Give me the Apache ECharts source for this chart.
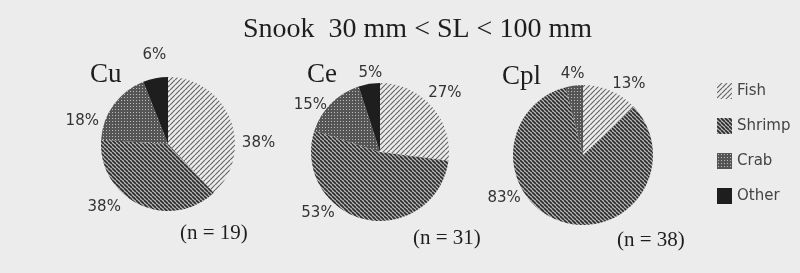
<!DOCTYPE html>
<html style="height: 100%">
<head>
<meta charset="utf-8">
</head>
<body style="height: 100%; margin: 0; background: #ececec">
<div id="container" style="width: 800px; height: 273px"></div>
<script type="text/javascript" src="https://cdn.jsdelivr.net/npm/echarts@6/dist/echarts.min.js"></script>
<script type="text/javascript">
var groups = ['Cu', 'Ce', 'Cpl'];
var sampleSizes = ['(n = 19)', '(n = 31)', '(n = 38)'];
var preyNames = ['Fish', 'Shrimp', 'Crab', 'Other'];
var fish = [38, 27, 13];
var shrimp = [38, 53, 83];
var crab = [18, 15, 4];
var other = [6, 5, 0];

// patterns drawn on small canvases, like the hatching of the original figure
function hatch(bg, fg, size, lw, dir) {
    var c = document.createElement('canvas');
    c.width = c.height = size;
    var g = c.getContext('2d');
    g.fillStyle = bg;
    g.fillRect(0, 0, size, size);
    g.strokeStyle = fg;
    g.lineWidth = lw;
    g.beginPath();
    for (var k = -1; k <= 1; k++) {
        if (dir > 0) {
            g.moveTo(k * size, size);
            g.lineTo(k * size + size, 0);
        } else {
            g.moveTo(k * size, 0);
            g.lineTo(k * size + size, size);
        }
    }
    g.stroke();
    return {image: c, repeat: 'repeat'};
}
function dots(bg, fg, size) {
    var c = document.createElement('canvas');
    c.width = c.height = size;
    var g = c.getContext('2d');
    g.fillStyle = bg;
    g.fillRect(0, 0, size, size);
    g.fillStyle = fg;
    g.fillRect(1, 1, 1, 1);
    return {image: c, repeat: 'repeat'};
}
var fills = [
    hatch('#ececec', '#666666', 5, 1.2, 1),
    hatch('#b8b8b8', '#2a2a2a', 4, 1.6, -1),
    dots('#555555', '#bdbdbd', 3),
    '#1e1e1e'
];

var centers = [[168, 144], [380, 152], [583, 155]];
var radii = [67, 69, 70];
// the original labels are placed by hand, so each one gets a small nudge
var labelNudge = [
    [[1, 26], [-11, -3], [-5, 20], [17, -17]],
    [[-13, -9], [-24, -12], [5, 6], [19, -5]],
    [[-6, -1], [-36, -30], [16, -5]]
];

var series = groups.map(function (g, i) {
    var vals = [fish[i], shrimp[i], crab[i], other[i]];
    var data = [];
    vals.forEach(function (v, j) {
        if (v > 0) {
            data.push({name: preyNames[j], value: v, itemStyle: {color: fills[j]}});
        }
    });
    return {
        name: g,
        type: 'pie',
        center: centers[i],
        radius: [0, radii[i]],
        startAngle: 90,
        animation: false,
        silent: true,
        data: data,
        label: {
            show: true,
            position: 'outside',
            formatter: '{c}%',
            fontFamily: 'DejaVu Sans',
            fontSize: 15,
            color: '#333'
        },
        labelLine: {show: false, length: 6, length2: 0},
        labelLayout: function (p) {
            var n = labelNudge[i][p.dataIndex];
            return {dx: n[0], dy: n[1]};
        }
    };
});

var titleFont = {fontFamily: 'Liberation Serif', fontWeight: 'normal', color: '#1e1e1e'};
var titles = [{
    text: 'Snook  30 mm < SL < 100 mm',
    left: 238, top: 11,
    textStyle: Object.assign({fontSize: 28}, titleFont)
}];
var groupPos = [[85, 56], [302, 56], [497, 58]];
var nPos = [[175, 218], [408, 223], [612, 225]];
groups.forEach(function (g, i) {
    titles.push({text: g, left: groupPos[i][0], top: groupPos[i][1],
        textStyle: Object.assign({fontSize: 27}, titleFont)});
    titles.push({text: sampleSizes[i], left: nPos[i][0], top: nPos[i][1],
        textStyle: Object.assign({fontSize: 21}, titleFont)});
});

var myChart = echarts.init(document.getElementById('container'));
var option = {
    backgroundColor: '#ececec',
    title: titles,
    legend: {
        orient: 'vertical',
        left: 712,
        top: 78,
        itemWidth: 15,
        itemHeight: 16,
        itemGap: 19,
        icon: 'rect',
        data: preyNames,
        textStyle: {fontFamily: 'DejaVu Sans', fontSize: 15, color: '#444'}
    },
    series: series
};
myChart.setOption(option);
</script>
</body>
</html>
